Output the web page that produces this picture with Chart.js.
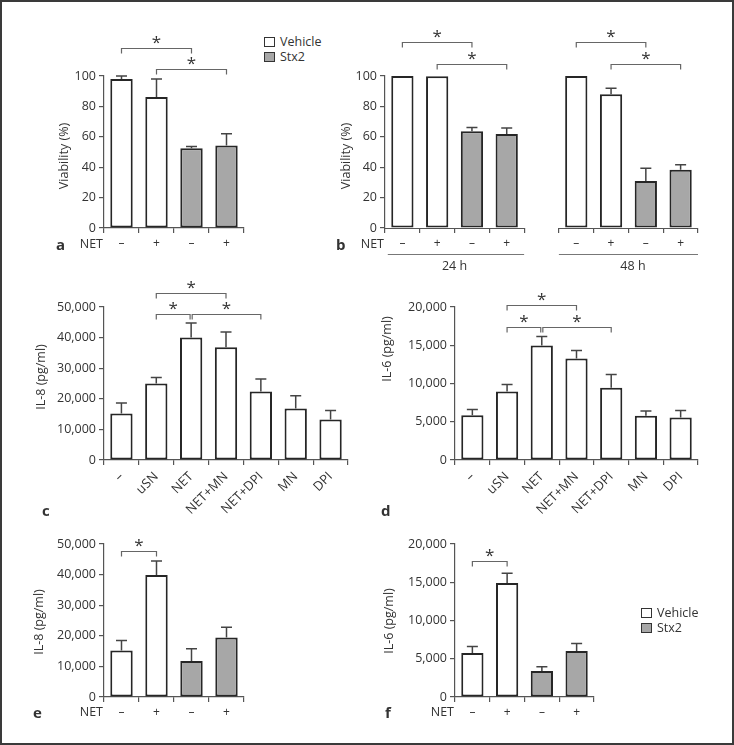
<!DOCTYPE html>
<html>
<head>
<meta charset="utf-8">
<script src="https://cdn.jsdelivr.net/npm/chart.js@4.4.1/dist/chart.umd.min.js"></script>
<style>
  html, body { margin: 0; padding: 0; background: #fff; }
  #fig { position: relative; width: 734px; height: 745px; overflow: hidden; font-family: 'Open Sans', 'DejaVu Sans', sans-serif; color: #333; }
  #frame { position: absolute; left: 0; top: 0; width: 734px; height: 745px; box-sizing: border-box; border: 2px solid #3a3a3a; }
  canvas { position: absolute; }
  .txt { position: absolute; white-space: nowrap; font-size: 12.5px; line-height: 16px; transform: translateY(-50%); }
  .letter { font-weight: bold; font-size: 15px; }
  .box { position: absolute; width: 9px; height: 8px; border: 1px solid #333; }
</style>
</head>
<body>
<div id="fig">
  <div id="frame"></div>
  <canvas id="chartA"></canvas>
  <canvas id="chartB"></canvas>
  <canvas id="chartC"></canvas>
  <canvas id="chartD"></canvas>
  <canvas id="chartE"></canvas>
  <canvas id="chartF"></canvas>
</div>
<script>
// ---- data -------------------------------------------------------------
// a: viability, 24 h
const netLabels = ['–', '+', '–', '+'];
const viabVehicle    = [98, 86.2, null, null];
const viabVehicleErr = [2, 11.8, null, null];
const viabStx2       = [null, null, 52.4, 54.2];
const viabStx2Err    = [null, null, 1.3, 7.8];

// b: viability, 24 h and 48 h (index 4 is the gap between the two groups)
const timeLabels = ['–', '+', '–', '+', '', '–', '+', '–', '+'];
const timeVehicle    = [100, 99.8, null, null, null, 100, 88, null, null];
const timeVehicleErr = [0, 0, null, null, null, 0, 3.9, null, null];
const timeStx2       = [null, null, 63.6, 61.8, null, null, null, 31, 38.4];
const timeStx2Err    = [null, null, 2.6, 4, null, null, null, 8.3, 3.2];
const timeGroups = ['24 h', '48 h'];

// c, d: IL-8 / IL-6 by treatment
const treatments = ['–', 'uSN', 'NET', 'NET+MN', 'NET+DPI', 'MN', 'DPI'];
const il8    = [15160, 24970, 40000, 36830, 22350, 16850, 13200];
const il8Err = [3470, 1960, 4770, 5000, 4120, 4150, 2950];
const il6    = [5850, 8960, 14980, 13280, 9430, 5800, 5550];
const il6Err = [750, 915, 1180, 1050, 1760, 620, 920];

// e, f: IL-8 / IL-6, vehicle vs Stx2
const il8Vehicle    = [15200, 39900, null, null];
const il8VehicleErr = [3260, 4560, null, null];
const il8Stx2       = [null, null, 11740, 19440];
const il8Stx2Err    = [null, null, 4010, 3390];
const il6Vehicle    = [5740, 14910, null, null];
const il6VehicleErr = [860, 1270, null, null];
const il6Stx2       = [null, null, 3390, 6000];
const il6Stx2Err    = [null, null, 560, 990];

// ---- styling -----------------------------------------------------------
const FONT = "'Open Sans', 'DejaVu Sans', sans-serif";
const INK = '#333';
const AXIS = '#555';
const WHITE = '#ffffff';
const GREY = '#a7a7a7';

const fmt = v => v.toLocaleString('en-US');

// error bars, y titles, significance brackets, group underlines
const marks = {
  id: 'marks',
  afterDatasetsDraw(chart) {
    const { ctx, scales: { y } } = chart;
    chart.data.datasets.forEach((ds, i) => {
      chart.getDatasetMeta(i).data.forEach((bar, j) => {
        const v = ds.data[j], e = ds.errors[j];
        if (v == null || !e) return;
        const top = y.getPixelForValue(v + e);
        ctx.save();
        ctx.strokeStyle = '#444';
        ctx.lineWidth = 1.5;
        ctx.beginPath();
        ctx.moveTo(bar.x, bar.y);
        ctx.lineTo(bar.x, top);
        ctx.moveTo(bar.x - 5.5, top);
        ctx.lineTo(bar.x + 5.5, top);
        ctx.stroke();
        ctx.restore();
      });
    });
  },
  afterDraw(chart, args, opts) {
    const { ctx, chartArea, scales: { x, y } } = chart;
    ctx.save();
    // y title, rotated
    ctx.save();
    ctx.translate(chartArea.left - opts.titleGap, chartArea.top + opts.titleMid);
    ctx.rotate(-Math.PI / 2);
    ctx.fillStyle = INK;
    ctx.font = '12.5px ' + FONT;
    ctx.textAlign = 'center';
    ctx.textBaseline = 'middle';
    ctx.fillText(opts.title, 0, 0);
    ctx.restore();
    // broken x axis
    if (opts.segments) {
      ctx.strokeStyle = AXIS;
      ctx.lineWidth = 1.2;
      opts.segments.forEach(([a, b]) => {
        ctx.beginPath();
        ctx.moveTo(x.getPixelForValue(a), chartArea.bottom + 0.5);
        ctx.lineTo(x.getPixelForValue(b), chartArea.bottom + 0.5);
        ctx.stroke();
      });
    }
    // group underlines with their labels
    (opts.groups || []).forEach(g => {
      const yy = chartArea.bottom + 26.5;
      ctx.strokeStyle = '#777';
      ctx.lineWidth = 1.2;
      ctx.beginPath();
      ctx.moveTo(x.getPixelForValue(g.from), yy);
      ctx.lineTo(x.getPixelForValue(g.to), yy);
      ctx.stroke();
      ctx.fillStyle = INK;
      ctx.font = '12.5px ' + FONT;
      ctx.textAlign = 'center';
      ctx.textBaseline = 'middle';
      ctx.fillText(g.text, x.getPixelForValue(g.at), chartArea.bottom + 38);
    });
    // significance brackets
    (opts.brackets || []).forEach(b => {
      const x1 = x.getPixelForValue(b.from), x2 = x.getPixelForValue(b.to);
      const yy = Math.round(y.getPixelForValue(b.level)) + 0.5;
      ctx.strokeStyle = '#666';
      ctx.lineWidth = 1.2;
      ctx.beginPath();
      ctx.moveTo(x1, yy + 5);
      ctx.lineTo(x1, yy);
      ctx.lineTo(x2, yy);
      ctx.lineTo(x2, yy + 5);
      ctx.stroke();
      if (b.star !== false) {
        ctx.fillStyle = INK;
        ctx.font = '17px ' + FONT;
        ctx.textAlign = 'center';
        ctx.textBaseline = 'alphabetic';
        ctx.fillText('*', (x1 + x2) / 2, yy - 11 + 10);
      }
    });
    ctx.restore();
  }
};

function barSet(label, data, errors, fill) {
  return {
    label, data, errors,
    backgroundColor: fill,
    borderColor: '#262626',
    borderWidth: 2,
    borderSkipped: false,
    categoryPercentage: 1,
    barPercentage: 0.64
  };
}

// area = plot area on the page [left, top, right, bottom]
function panel(id, area, o) {
  const [L, T, R, B] = area;
  const rp = 10;
  const cv = document.getElementById(id);
  cv.width = R - L + o.yw + rp;
  cv.height = B - T + o.tp + o.xh;
  cv.style.left = (L - o.yw) + 'px';
  cv.style.top = (T - o.tp) + 'px';

  return new Chart(cv, {
    type: 'bar',
    data: { labels: o.labels, datasets: o.datasets },
    options: {
      responsive: false,
      animation: false,
      events: [],
      layout: { padding: { top: o.tp, right: rp, left: 0, bottom: 0 } },
      plugins: {
        legend: { display: false },
        tooltip: { enabled: false },
        marks: {
          brackets: o.brackets, groups: o.groups, segments: o.segments,
          title: o.title, titleGap: o.titleGap, titleMid: o.titleMid
        }
      },
      scales: {
        x: {
          stacked: true,
          grid: { drawOnChartArea: false, tickLength: 5, color: AXIS, lineWidth: 1.2, offset: true },
          border: { display: !o.segments, color: AXIS, width: 1.2 },
          ticks: {
            color: INK, font: { family: FONT, size: o.rot ? 13 : 12 }, padding: o.rot ? 4 : 3,
            autoSkip: false, maxRotation: o.rot || 0, minRotation: o.rot || 0
          },
          afterFit: s => { s.height = o.xh; s.paddingLeft = 0; s.paddingRight = 0; }
        },
        y: {
          stacked: true,
          min: 0, max: o.max,
          ticks: { stepSize: o.step, color: INK, font: { family: FONT, size: 12.5 }, padding: 3, callback: fmt },
          grid: { drawOnChartArea: false, tickLength: 5, color: AXIS, lineWidth: 1.2 },
          border: { color: AXIS, width: 1.2 },
          afterFit: s => { s.width = o.yw; s.paddingTop = 0; s.paddingBottom = 0; }
        }
      }
    },
    plugins: [marks]
  });
}

panel('chartA', [104, 76, 244, 228], {
  yw: 60, tp: 50, xh: 26, max: 100, step: 20,
  title: 'Viability (%)', titleGap: 40, titleMid: 80,
  labels: netLabels,
  datasets: [barSet('Vehicle', viabVehicle, viabVehicleErr, WHITE), barSet('Stx2', viabStx2, viabStx2Err, GREY)],
  brackets: [{ from: 0, to: 2, level: 118.4 }, { from: 1, to: 3, level: 104.6 }]
});

panel('chartB', [385, 76, 698, 228], {
  yw: 60, tp: 50, xh: 52, max: 100, step: 20,
  title: 'Viability (%)', titleGap: 39, titleMid: 80,
  labels: timeLabels,
  datasets: [barSet('Vehicle', timeVehicle, timeVehicleErr, WHITE), barSet('Stx2', timeStx2, timeStx2Err, GREY)],
  segments: [[-0.5, 3.5], [4.5, 8.5]],
  groups: [
    { text: timeGroups[0], from: -0.42, to: 3.5, at: 1.5 },
    { text: timeGroups[1], from: 4.5, to: 8.5, at: 6.63 }
  ],
  brackets: [
    { from: 0, to: 2, level: 122.2 }, { from: 1, to: 3, level: 107.7 },
    { from: 5, to: 7, level: 122.2 }, { from: 6, to: 8, level: 107.7 }
  ]
});

panel('chartC', [104, 307, 348, 460], {
  yw: 80, tp: 35, xh: 75, max: 50000, step: 10000,
  title: 'IL-8 (pg/ml)', titleGap: 62.5, titleMid: 70, rot: 45,
  labels: treatments,
  datasets: [barSet('IL-8', il8, il8Err, WHITE)],
  brackets: [
    { from: 1, to: 3, level: 54575 },
    { from: 1, to: 1.97, level: 47840 },
    { from: 2.03, to: 4, level: 47840 }
  ]
});

panel('chartD', [455, 307, 698, 460], {
  yw: 80, tp: 35, xh: 75, max: 20000, step: 5000,
  title: 'IL-6 (pg/ml)', titleGap: 67.5, titleMid: 42, rot: 45,
  labels: treatments,
  datasets: [barSet('IL-6', il6, il6Err, WHITE)],
  brackets: [
    { from: 1, to: 3, level: 20223 },
    { from: 1, to: 1.97, level: 17420 },
    { from: 2.03, to: 4, level: 17420 }
  ]
});

panel('chartE', [104, 544, 244, 697], {
  yw: 80, tp: 25, xh: 26, max: 50000, step: 10000,
  title: 'IL-8 (pg/ml)', titleGap: 65, titleMid: 78,
  labels: netLabels,
  datasets: [barSet('Vehicle', il8Vehicle, il8VehicleErr, WHITE), barSet('Stx2', il8Stx2, il8Stx2Err, GREY)],
  brackets: [{ from: 0, to: 1, level: 47620 }]
});

panel('chartF', [455, 544, 594, 697], {
  yw: 80, tp: 25, xh: 26, max: 20000, step: 5000,
  title: 'IL-6 (pg/ml)', titleGap: 66, titleMid: 77,
  labels: netLabels,
  datasets: [barSet('Vehicle', il6Vehicle, il6VehicleErr, WHITE), barSet('Stx2', il6Stx2, il6Stx2Err, GREY)],
  brackets: [{ from: 0, to: 1, level: 17740 }]
});

// ---- text labels and legends ------------------------------------------
const fig = document.getElementById('fig');
function put(text, x, y, cls, right) {
  const d = document.createElement('div');
  d.className = 'txt' + (cls ? ' ' + cls : '');
  d.textContent = text;
  d.style.top = y + 'px';
  if (right) d.style.right = (734 - x) + 'px'; else d.style.left = x + 'px';
  fig.appendChild(d);
}
function legend(x, y) {
  [['Vehicle', WHITE], ['Stx2', GREY]].forEach(([name, fill], i) => {
    const b = document.createElement('div');
    b.className = 'box';
    b.style.left = x + 'px';
    b.style.top = (y + i * 15 - 5) + 'px';
    b.style.background = fill;
    fig.appendChild(b);
    put(name, x + 16, y + i * 15, '');
  });
}

put('a', 56, 244, 'letter');
put('NET', 103, 244, '', true);
put('b', 336, 244, 'letter');
put('NET', 384, 244, '', true);
put('c', 42, 510, 'letter');
put('d', 381, 510, 'letter');
put('e', 33, 712, 'letter');
put('NET', 103, 712, '', true);
put('f', 385, 712, 'letter');
put('NET', 454, 712, '', true);
legend(264, 42);
legend(641, 613);
</script>
</body>
</html>
